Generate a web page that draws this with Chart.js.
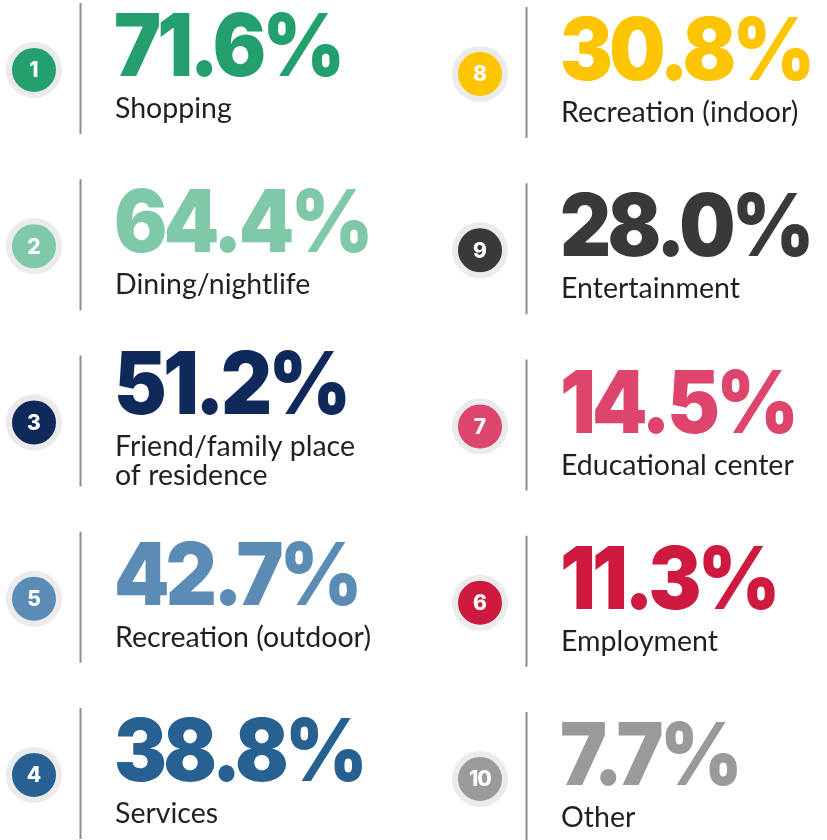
<!DOCTYPE html>
<html>
<head>
<meta charset="utf-8">
<script src="https://cdn.jsdelivr.net/npm/chart.js@4"></script>
<style>
html,body{margin:0;padding:0;background:#fff;}
#wrap{width:827px;height:840px;position:relative;}
</style>
</head>
<body>
<div id="wrap"><canvas id="c" width="827" height="840"></canvas></div>
<script>
// ---- data ----
const leftRanks  = [1, 2, 3, 5, 4];
const leftValues = [71.6, 64.4, 51.2, 42.7, 38.8];
const leftLabels = ['Shopping', 'Dining/nightlife', ['Friend/family place', 'of residence'], 'Recreation (outdoor)', 'Services'];
const leftColors = ['#23a06e', '#7fc9a8', '#0f2a5a', '#5b8cb5', '#276192'];

const rightRanks  = [8, 9, 7, 6, 10];
const rightValues = [30.8, 28.0, 14.5, 11.3, 7.7];
const rightLabels = ['Recreation (indoor)', 'Entertainment', 'Educational center', 'Employment', 'Other'];
const rightColors = ['#fdc400', '#383a39', '#de456d', '#cf1a3f', '#9a9a9d'];

const rowIndex = [0, 1, 2, 3, 4];

function pts(col) { return rowIndex.map(r => ({ x: col, y: r })); }

const infoPlugin = {
  id: 'info',
  afterDatasetsDraw(chart) {
    const ctx = chart.ctx;
    chart.data.datasets.forEach((ds, di) => {
      const meta = chart.getDatasetMeta(di);
      meta.data.forEach((el, i) => {
        const x = el.x, y = el.y;
        ctx.save();
        // rank number in circle
        ctx.fillStyle = '#ffffff';
        ctx.font = '800 21px Inter, "DejaVu Sans", sans-serif';
        ctx.textAlign = 'center';
        ctx.textBaseline = 'middle';
        ctx.letterSpacing = ds.ranks[i] >= 10 ? '-1px' : '0px';
        ctx.fillText(String(ds.ranks[i]), x, y + 1);
        ctx.letterSpacing = '0px';
        // vertical divider
        ctx.strokeStyle = '#8c8c8c';
        ctx.lineWidth = 2;
        ctx.beginPath();
        ctx.moveTo(x + 46.5, y - 67);
        ctx.lineTo(x + 46.5, y + 64);
        ctx.stroke();
        // label lines
        const lab = ds.labelsText[i];
        const lines = Array.isArray(lab) ? lab : [lab];
        const shift = -(lines.length - 1) * 14.5;
        // big value (slightly condensed)
        ctx.textAlign = 'left';
        ctx.textBaseline = 'alphabetic';
        ctx.fillStyle = ds.pointBackgroundColor[i];
        ctx.font = '900 86px Inter, "DejaVu Sans", sans-serif';
        ctx.letterSpacing = '-4px';
        ctx.save();
        ctx.translate(x + 80, y + 6 + shift);
        ctx.scale(0.92, 1);
        ctx.fillText(ds.values[i].toFixed(1) + '%', 0, 0);
        ctx.restore();
        ctx.letterSpacing = '0px';
        ctx.fillStyle = '#231f20';
        ctx.font = '28.5px Lato, "Noto Sans", sans-serif';
        lines.forEach((ln, k) => {
          ctx.fillText(ln, x + 81, y + 48 + shift + k * 29);
        });
        ctx.restore();
      });
    });
  }
};

const pointStyle = {
  pointBorderColor: '#ebebeb', pointBorderWidth: 6,
  pointRadius: 25, pointHoverRadius: 25, showLine: false
};

new Chart(document.getElementById('c'), {
  type: 'scatter',
  data: {
    datasets: [
      Object.assign({ data: pts(0), ranks: leftRanks, values: leftValues, labelsText: leftLabels,
        pointBackgroundColor: leftColors, yAxisID: 'yL', xAxisID: 'x' }, pointStyle),
      Object.assign({ data: pts(1), ranks: rightRanks, values: rightValues, labelsText: rightLabels,
        pointBackgroundColor: rightColors, yAxisID: 'yR', xAxisID: 'x' }, pointStyle)
    ]
  },
  options: {
    responsive: false,
    animation: false,
    events: [],
    layout: { padding: 0, autoPadding: false },
    plugins: { legend: { display: false }, tooltip: { enabled: false } },
    scales: {
      x: { type: 'linear', display: false, min: -34 / 446, max: -34 / 446 + 827 / 446 },
      yL: { type: 'linear', display: false, reverse: true, min: -70 / 176.25, max: -70 / 176.25 + 840 / 176.25 },
      yR: { type: 'linear', display: false, reverse: true, min: -74 / 176.25, max: -74 / 176.25 + 840 / 176.25 }
    }
  },
  plugins: [infoPlugin]
});
</script>
</body>
</html>
